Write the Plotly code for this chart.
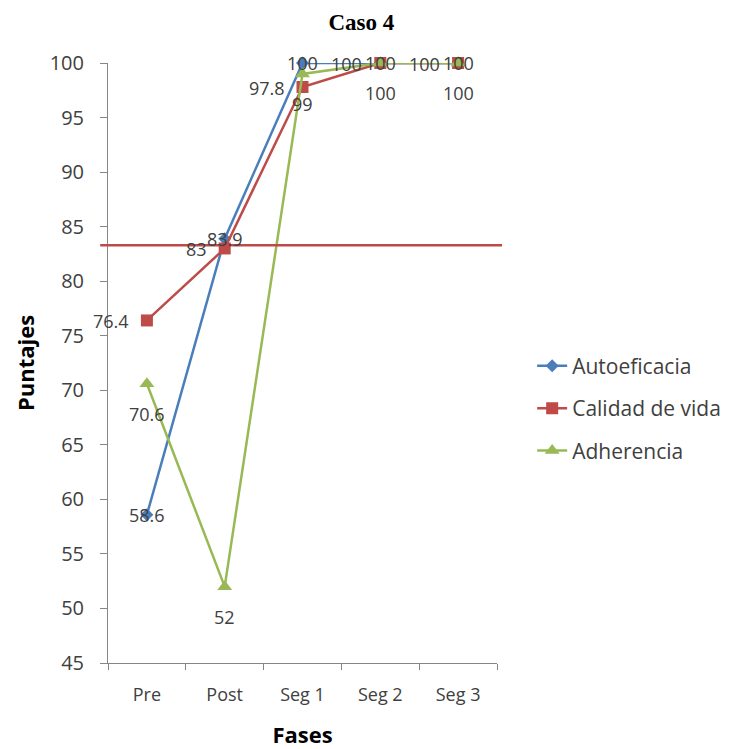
import plotly.graph_objects as go

fases = ["Pre", "Post", "Seg 1", "Seg 2", "Seg 3"]
autoeficacia = [58.6, 83.9, 100, 100, 100]
calidad = [76.4, 83, 97.8, 100, 100]
adherencia = [70.6, 52, 99, 100, 100]
linea_ref = 83.3

blue = "#4A7EBB"
red = "#BE4B48"
green = "#98B954"
sans = "Open Sans"
lab_font = dict(family=sans, size=18, color="#404040")

fig = go.Figure()
fig.add_trace(go.Scatter(
    x=fases, y=autoeficacia, name="Autoeficacia", mode="lines+markers",
    line=dict(color=blue, width=2.5), marker=dict(symbol="diamond", size=10, color=blue),
    legendgroup="a", cliponaxis=False))
fig.add_trace(go.Scatter(
    x=fases, y=calidad, name="Calidad de vida", mode="lines+markers",
    line=dict(color=red, width=2.5), marker=dict(symbol="square", size=12, color=red),
    legendgroup="b", cliponaxis=False))
fig.add_trace(go.Scatter(
    x=fases, y=adherencia, name="Adherencia", mode="lines+markers",
    line=dict(color=green, width=2.5), marker=dict(symbol="triangle-up", size=13, color=green),
    legendgroup="c", cliponaxis=False))

# data labels (Excel-like placement)
for xi, v in zip(fases, autoeficacia):
    fig.add_annotation(x=xi, y=v, text=str(v), showarrow=False, font=lab_font,
                       xanchor="center", yanchor="middle", yshift=0)
for xi, v in zip(fases, calidad):
    fig.add_annotation(x=xi, y=v, text=str(v), showarrow=False, font=lab_font,
                       xanchor="right", yanchor="middle", xshift=-16, yshift=-1)
for xi, v in zip(fases, adherencia):
    fig.add_annotation(x=xi, y=v, text=str(v), showarrow=False, font=lab_font,
                       xanchor="center", yanchor="middle", yshift=-30)

fig.add_shape(type="line", xref="paper", yref="y", x0=-0.02, x1=1.013,
              y0=linea_ref, y1=linea_ref, line=dict(color=red, width=2.5))

fig.update_layout(
    width=733, height=749,
    margin=dict(l=108, r=236, t=63, b=86, autoexpand=False),
    paper_bgcolor="white", plot_bgcolor="white",
    title=dict(text="<b>Caso 4</b>", x=0.493, xanchor="center", y=0.971, yanchor="middle",
               font=dict(family="Liberation Serif", size=23, color="black")),
    xaxis=dict(showgrid=False, showline=True, linecolor="#868686", linewidth=1,
               ticks="outside", ticklen=6, tickcolor="#868686",
               tickson="boundaries", range=[-0.5, 4.5], ticklabelstandoff=15,
               tickfont=dict(family=sans, size=18, color="#404040"),
               title=dict(text="<b>Fases</b>", font=dict(family=sans, size=22, color="black"),
                          standoff=24)),
    yaxis=dict(showgrid=False, showline=True, linecolor="#868686", linewidth=1,
               ticks="outside", ticklen=7, tickcolor="#868686",
               range=[45, 100], dtick=5, zeroline=False, ticklabelstandoff=12,
               tickfont=dict(family=sans, size=20, color="#404040"),
               title=dict(text="<b>Puntajes</b>", font=dict(family=sans, size=22, color="black"),
                          standoff=8)),
    legend=dict(xref="container", yref="container", x=0.726, xanchor="left",
                y=0.455, yanchor="middle",
                traceorder="grouped", tracegroupgap=12,
                font=dict(family=sans, size=21, color="#404040"),
                itemwidth=30),
    showlegend=True,
)

fig.write_html("out.html")
